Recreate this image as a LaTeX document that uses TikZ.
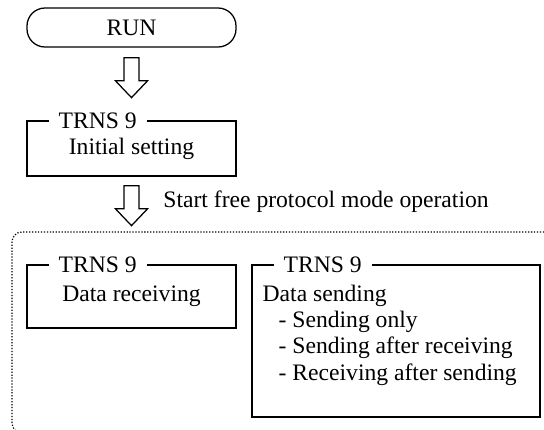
\documentclass[tikz,border=0pt]{standalone}
\usepackage{fontspec}
\setmainfont{Liberation Serif}
\begin{document}
\begin{tikzpicture}[every node/.style={font=\fontsize{16.8}{18.8}\selectfont},
  tbox/.style={draw, line width=0.9pt, minimum width=5.225cm},
  lbl/.style={fill=white, anchor=west, inner xsep=0.25cm, inner ysep=0pt},
  hollowarrow/.pic={
    \draw[line width=0.9pt] (-0.19,-0.25) -- (0.19,-0.25) -- (0.19,-0.83)
      -- (0.4,-0.83) -- (0,-1.25) -- (-0.4,-0.83) -- (-0.19,-0.83) -- cycle;
  }]
  \useasboundingbox (0,0) rectangle (13.6,10.725);
  \clip (0,0) rectangle (13.6,10.725);

  % run
  \node[tbox, rounded corners=0.45cm, minimum height=0.975cm] (run) at (3.2875,10.0375) {RUN};
  \pic at (run.south) {hollowarrow};

  % initial setting
  \node[tbox, minimum height=1.375cm] (init) at (3.2875,7.0125) {Initial setting};
  \node[lbl] (initlbl) at ([xshift=0.55cm]init.north west) {TRNS 9};
  \pic at ([yshift=0.025cm]init.south) {hollowarrow};
  \node[anchor=base west, inner sep=0pt] (start) at ([shift={(0.79,-0.775)}]init.south)
    {Start free protocol mode operation};

  % free protocol mode
  \draw[line width=0.85pt, dash pattern=on 0.9pt off 1.2pt, rounded corners=0.25cm]
    (0.3,-0.1) rectangle (14.5,4.925);

  % receiving
  \node[tbox, minimum height=1.575cm] (recv) at (3.2875,3.3125) {Data receiving};
  \node[lbl] (recvlbl) at ([xshift=0.55cm]recv.north west) {TRNS 9};

  % sending
  \node[tbox, minimum width=7.2cm, minimum height=3.8cm] (send) at (9.9,2.2) {};
  \node[lbl] (sendlbl) at ([xshift=0.55cm]send.north west) {TRNS 9};
  \node[anchor=north west, align=left, inner sep=0pt] (sendtxt)
    at ([shift={(0.275,-0.5)}]send.north west)
    {Data sending\\
     \hspace*{0.4cm}- Sending only\\
     \hspace*{0.4cm}- Sending after receiving\\
     \hspace*{0.4cm}- Receiving after sending};
\end{tikzpicture}
\end{document}
